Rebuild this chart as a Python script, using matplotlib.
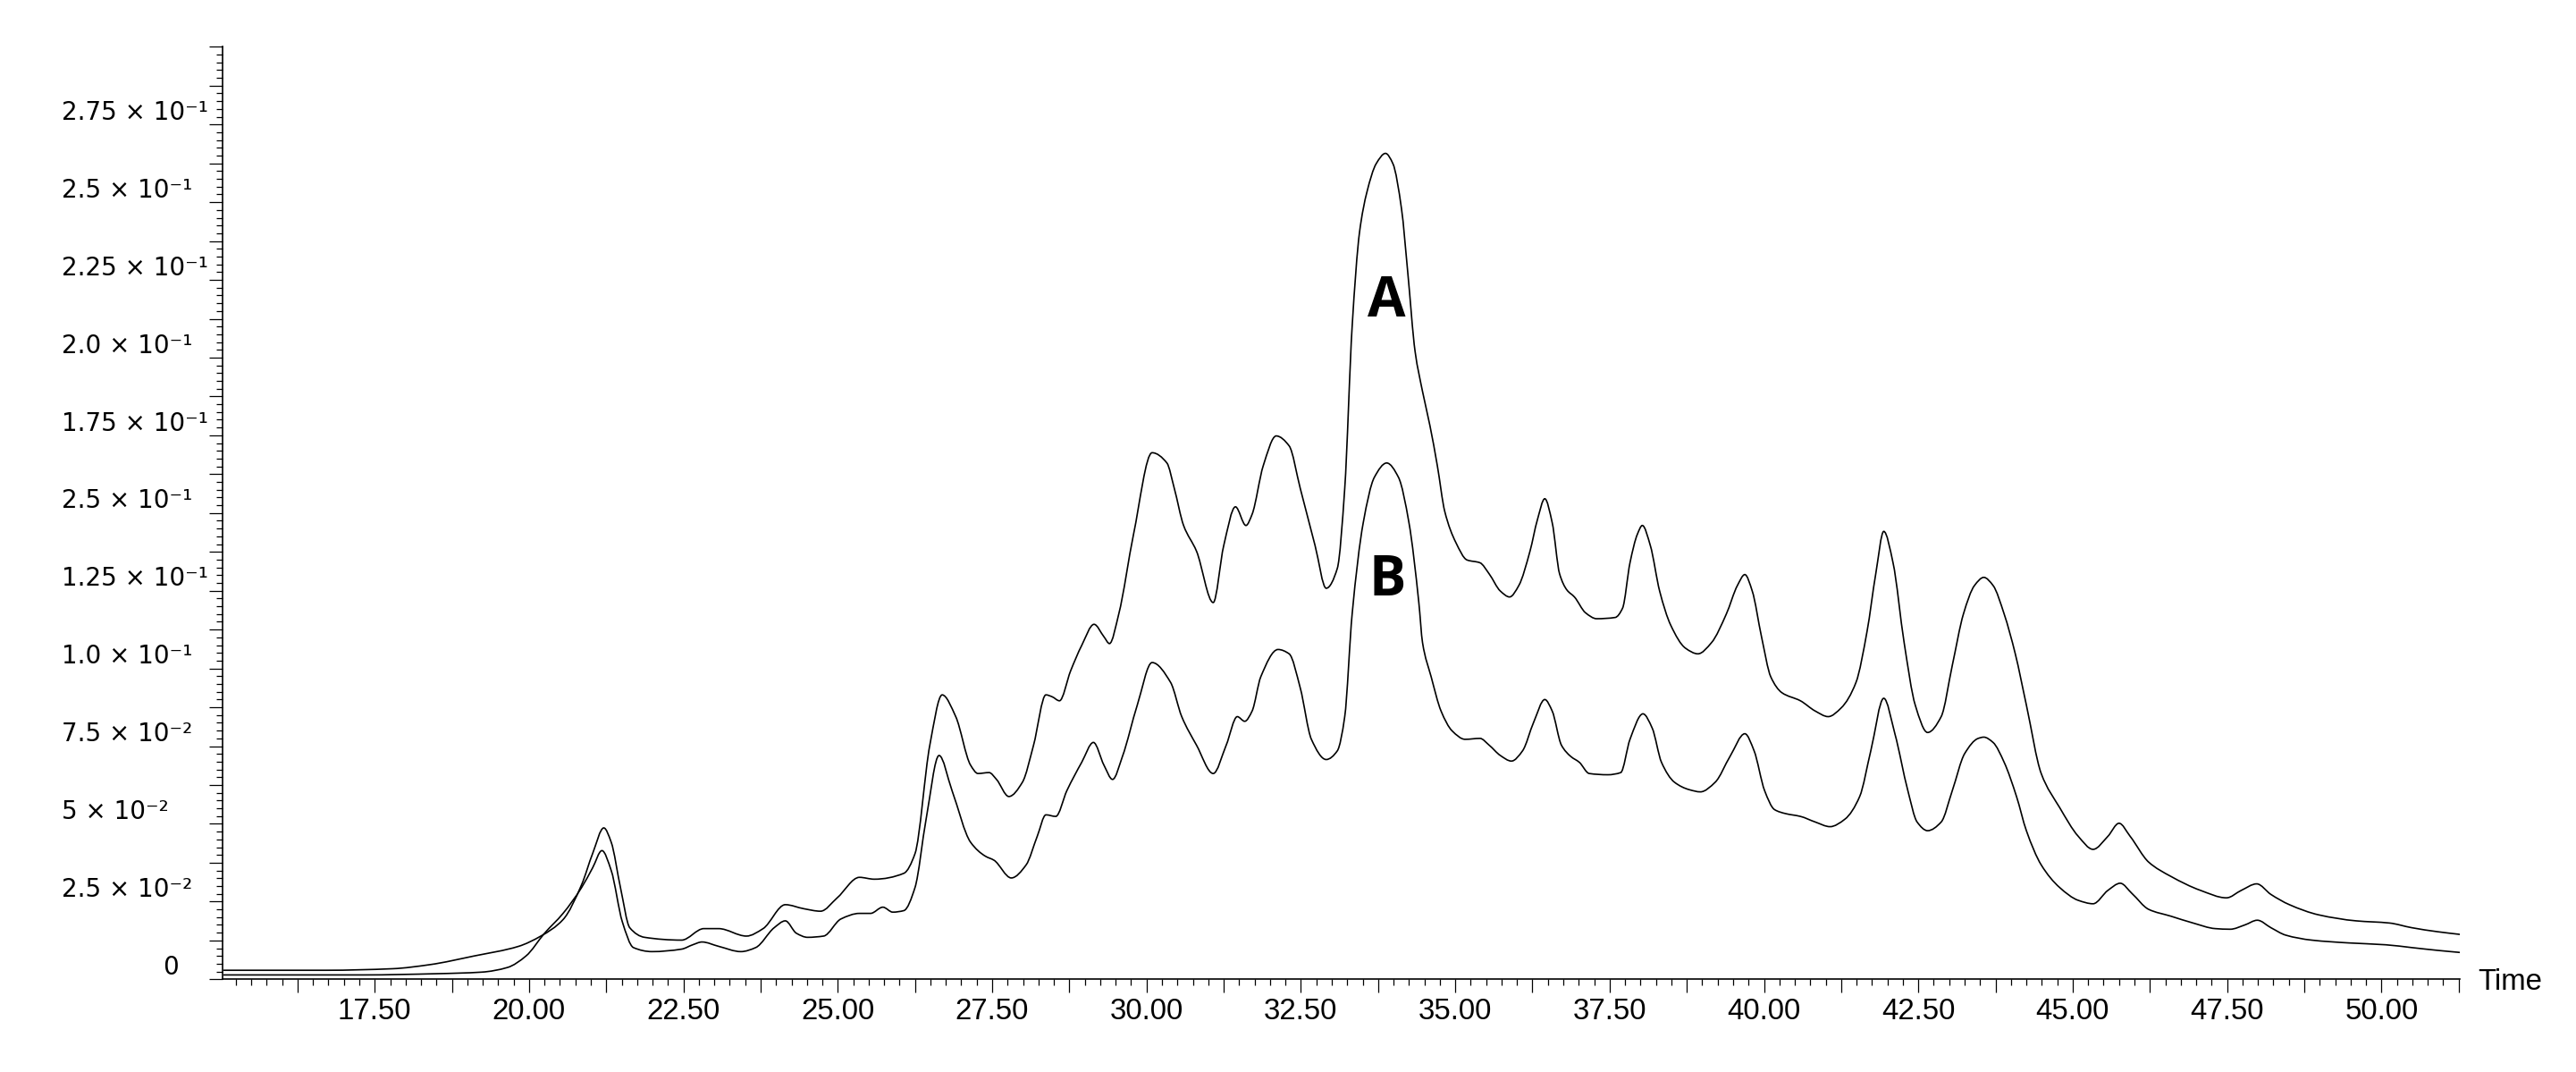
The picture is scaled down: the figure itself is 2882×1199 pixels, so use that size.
import numpy as np
import matplotlib
matplotlib.use("Agg")
import matplotlib.pyplot as plt
from matplotlib.ticker import MultipleLocator, FixedLocator, NullFormatter
from matplotlib.path import Path
from matplotlib.patches import PathPatch

# ---------------- data ----------------
time_A = [15.05, 16.71, 17.79, 18.39, 19.11, 19.83, 20.19, 20.55, 20.85, 21.03,
          21.21, 21.33, 21.48, 21.63, 21.87, 22.47, 22.83, 23.07, 23.52, 23.79,
          24.15, 24.45, 24.72, 24.99, 25.35, 25.59, 26.07, 26.25, 26.49, 26.69,
          26.91, 27.15, 27.27, 27.45, 27.57, 27.77, 27.99, 28.17, 28.37, 28.47,
          28.59, 28.77, 28.95, 29.15, 29.31, 29.40, 29.55, 29.79, 30.09, 30.33,
          30.45, 30.60, 30.81, 31.08, 31.25, 31.44, 31.61, 31.71, 31.89, 32.10,
          32.31, 32.49, 32.73, 32.91, 33.09, 33.21, 33.33, 33.45, 33.57, 33.72,
          33.87, 33.99, 34.13, 34.23, 34.35, 34.47, 34.59, 34.71, 34.83, 35.01,
          35.19, 35.40, 35.55, 35.73, 35.88, 36.03, 36.21, 36.33, 36.45, 36.57,
          36.69, 36.81, 36.93, 37.11, 37.29, 37.59, 37.71, 37.83, 37.95, 38.03,
          38.16, 38.31, 38.49, 38.73, 38.93, 39.15, 39.39, 39.57, 39.69, 39.81,
          39.96, 40.11, 40.29, 40.59, 40.83, 41.04, 41.25, 41.49, 41.67, 41.81,
          41.94, 42.09, 42.27, 42.45, 42.65, 42.87, 43.05, 43.23, 43.41, 43.56,
          43.71, 43.89, 44.07, 44.25, 44.49, 44.79, 45.09, 45.33, 45.57, 45.75,
          45.93, 46.23, 46.59, 47.07, 47.49, 47.73, 47.98, 48.21, 48.51, 48.99,
          49.59, 50.13, 50.49, 50.91, 51.29]
signal_A = [0.0029, 0.0029, 0.0034, 0.0047, 0.0075, 0.0106, 0.0139, 0.0192, 0.0304, 0.0405,
            0.0487, 0.0441, 0.0295, 0.0166, 0.0135, 0.0126, 0.0163, 0.0163, 0.0139, 0.0163,
            0.0240, 0.0227, 0.0219, 0.0262, 0.0328, 0.0322, 0.0341, 0.0404, 0.0753, 0.0915,
            0.0845, 0.0689, 0.0662, 0.0665, 0.0643, 0.0588, 0.0634, 0.0753, 0.0915, 0.0909,
            0.0896, 0.0992, 0.1074, 0.1142, 0.1102, 0.1080, 0.1175, 0.1432, 0.1694, 0.1661,
            0.1579, 0.1460, 0.1377, 0.1212, 0.1395, 0.1520, 0.1460, 0.1496, 0.1652, 0.1748,
            0.1716, 0.1579, 0.1395, 0.1258, 0.1322, 0.1579, 0.2100, 0.2404, 0.2533, 0.2624,
            0.2657, 0.2624, 0.2478, 0.2276, 0.2019, 0.1891, 0.1781, 0.1652, 0.1505, 0.1405,
            0.1349, 0.1340, 0.1304, 0.1249, 0.1230, 0.1267, 0.1377, 0.1478, 0.1546, 0.1469,
            0.1304, 0.1252, 0.1230, 0.1179, 0.1160, 0.1164, 0.1194, 0.1340, 0.1432, 0.1460,
            0.1395, 0.1249, 0.1139, 0.1065, 0.1047, 0.1083, 0.1175, 0.1267, 0.1302, 0.1249,
            0.1102, 0.0973, 0.0922, 0.0896, 0.0863, 0.0845, 0.0873, 0.0955, 0.1120, 0.1304,
            0.1441, 0.1340, 0.1083, 0.0882, 0.0794, 0.0845, 0.1010, 0.1175, 0.1267, 0.1293,
            0.1267, 0.1175, 0.1047, 0.0882, 0.0662, 0.0552, 0.0460, 0.0418, 0.0460, 0.0502,
            0.0460, 0.0377, 0.0331, 0.0286, 0.0262, 0.0286, 0.0307, 0.0273, 0.0240, 0.0207,
            0.0188, 0.0181, 0.0166, 0.0153, 0.0144]

time_B = [15.05, 17.31, 18.51, 19.23, 19.65, 19.95, 20.25, 20.55, 20.85, 21.03,
          21.18, 21.33, 21.51, 21.69, 21.99, 22.47, 22.65, 22.80, 23.07, 23.43,
          23.67, 23.97, 24.15, 24.33, 24.51, 24.77, 25.05, 25.35, 25.53, 25.73,
          25.89, 26.07, 26.25, 26.43, 26.64, 26.85, 27.15, 27.39, 27.53, 27.81,
          28.05, 28.23, 28.37, 28.53, 28.71, 28.95, 29.14, 29.31, 29.45, 29.61,
          29.85, 30.09, 30.39, 30.57, 30.81, 31.08, 31.29, 31.47, 31.59, 31.71,
          31.85, 32.13, 32.31, 32.49, 32.67, 32.91, 33.09, 33.21, 33.33, 33.51,
          33.69, 33.89, 34.08, 34.25, 34.41, 34.47, 34.61, 34.77, 34.95, 35.16,
          35.40, 35.55, 35.73, 35.91, 36.09, 36.27, 36.45, 36.57, 36.72, 36.87,
          37.01, 37.17, 37.47, 37.68, 37.83, 38.04, 38.19, 38.34, 38.55, 38.79,
          38.97, 39.21, 39.45, 39.69, 39.84, 40.01, 40.17, 40.35, 40.59, 40.83,
          41.07, 41.31, 41.55, 41.73, 41.94, 42.12, 42.33, 42.48, 42.65, 42.87,
          43.05, 43.25, 43.47, 43.56, 43.71, 43.89, 44.09, 44.25, 44.49, 44.79,
          45.09, 45.33, 45.57, 45.77, 45.96, 46.23, 46.59, 46.95, 47.31, 47.55,
          47.79, 47.99, 48.21, 48.45, 48.87, 49.47, 50.07, 50.49, 50.91, 51.29]
signal_B = [0.0014, 0.0014, 0.0018, 0.0023, 0.0038, 0.0075, 0.0148, 0.0212, 0.0295, 0.0359,
            0.0414, 0.0350, 0.0185, 0.0102, 0.0089, 0.0097, 0.0111, 0.0120, 0.0106, 0.0089,
            0.0102, 0.0166, 0.0188, 0.0148, 0.0135, 0.0139, 0.0194, 0.0212, 0.0212, 0.0232,
            0.0216, 0.0221, 0.0295, 0.0515, 0.0720, 0.0607, 0.0441, 0.0396, 0.0383, 0.0326,
            0.0368, 0.0460, 0.0529, 0.0524, 0.0607, 0.0698, 0.0762, 0.0689, 0.0643, 0.0717,
            0.0882, 0.1019, 0.0955, 0.0845, 0.0753, 0.0662, 0.0753, 0.0845, 0.0830, 0.0863,
            0.0973, 0.1061, 0.1047, 0.0937, 0.0772, 0.0707, 0.0735, 0.0845, 0.1175, 0.1469,
            0.1615, 0.1661, 0.1615, 0.1469, 0.1212, 0.1083, 0.0973, 0.0863, 0.0799, 0.0772,
            0.0775, 0.0753, 0.0720, 0.0702, 0.0735, 0.0827, 0.0900, 0.0863, 0.0753, 0.0717,
            0.0698, 0.0662, 0.0658, 0.0665, 0.0772, 0.0854, 0.0808, 0.0698, 0.0634, 0.0610,
            0.0603, 0.0634, 0.0717, 0.0790, 0.0735, 0.0607, 0.0546, 0.0533, 0.0524, 0.0506,
            0.0491, 0.0515, 0.0588, 0.0735, 0.0904, 0.0790, 0.0607, 0.0506, 0.0478, 0.0506,
            0.0607, 0.0726, 0.0775, 0.0779, 0.0762, 0.0698, 0.0588, 0.0478, 0.0368, 0.0295,
            0.0254, 0.0243, 0.0286, 0.0309, 0.0276, 0.0225, 0.0203, 0.0181, 0.0163, 0.0161,
            0.0175, 0.0190, 0.0166, 0.0142, 0.0126, 0.0117, 0.0111, 0.0102, 0.0093, 0.0086]

x_label_values = [17.5, 20.0, 22.5, 25.0, 27.5, 30.0, 32.5, 35.0, 37.5, 40.0, 42.5, 45.0, 47.5, 50.0]
x_label_texts = ["17.50", "20.00", "22.50", "25.00", "27.50", "30.00", "32.50",
                 "35.00", "37.50", "40.00", "42.50", "45.00", "47.50", "50.00"]

y_label_values = [0, 0.025, 0.05, 0.075, 0.1, 0.125, 0.15, 0.175, 0.2, 0.225, 0.25, 0.275]
y_label_texts = ["0", "2.5 × 10⁻²", "5 × 10⁻²", "7.5 × 10⁻²", "1.0 × 10⁻¹", "1.25 × 10⁻¹",
                 "2.5 × 10⁻¹", "1.75 × 10⁻¹", "2.0 × 10⁻¹", "2.25 × 10⁻¹", "2.5 × 10⁻¹",
                 "2.75 × 10⁻¹"]

peak_labels = ["A", "B"]
peak_label_pos = [(33.88, 0.2133), (33.90, 0.1234)]


def smooth_trace_path(x, y):
    """Cubic Bezier path through the read points (monotone Hermite tangents)."""
    x = np.asarray(x, float)
    y = np.asarray(y, float)
    h = np.diff(x)
    d = np.diff(y) / h
    m = np.zeros_like(y)
    m[0], m[-1] = d[0], d[-1]
    for k in range(1, len(y) - 1):
        if d[k - 1] * d[k] <= 0:
            m[k] = 0.0
        else:
            w1 = 2 * h[k] + h[k - 1]
            w2 = h[k] + 2 * h[k - 1]
            m[k] = (w1 + w2) / (w1 / d[k - 1] + w2 / d[k])
    verts = [(x[0], y[0])]
    codes = [Path.MOVETO]
    for k in range(len(x) - 1):
        verts += [(x[k] + h[k] / 3, y[k] + m[k] * h[k] / 3),
                  (x[k + 1] - h[k] / 3, y[k + 1] - m[k + 1] * h[k] / 3),
                  (x[k + 1], y[k + 1])]
        codes += [Path.CURVE4] * 3
    return Path(verts, codes)


# ---------------- figure ----------------
W, H, DPI = 2882, 1199, 100
fig = plt.figure(figsize=(W / DPI, H / DPI), dpi=DPI)
ax = fig.add_axes([249.3 / W, 103.7 / H, (2751.7 - 249.3) / W, (1146.7 - 103.7) / H])

for tx, sy in ((time_A, signal_A), (time_B, signal_B)):
    ax.add_patch(PathPatch(smooth_trace_path(tx, sy), fill=False,
                           edgecolor="black", lw=1.2, joinstyle="round"))

ax.set_xlim(15.04, 51.265)
ax.set_ylim(0, 0.300)

for s in ("top", "right"):
    ax.spines[s].set_visible(False)
for s in ("left", "bottom"):
    ax.spines[s].set_linewidth(1.2)
    ax.spines[s].set_color("black")

# x ticks
x_major = np.arange(16.25, 51.3, 1.25)
ax.xaxis.set_major_locator(FixedLocator(x_major))
lab_map = {round(v, 2): t for v, t in zip(x_label_values, x_label_texts)}
ax.set_xticklabels([lab_map.get(round(v, 2), "") for v in x_major],
                   family="Liberation Sans", fontsize=23.8)
ax.xaxis.set_minor_locator(MultipleLocator(0.25))
ax.tick_params(axis="x", which="major", direction="out", length=10.6, width=0.9, pad=4.0)
ax.tick_params(axis="x", which="minor", direction="out", length=4.8, width=0.9)

# y ticks
ax.yaxis.set_major_locator(MultipleLocator(0.0125))
ax.yaxis.set_minor_locator(MultipleLocator(0.0025))
ax.yaxis.set_major_formatter(NullFormatter())
ax.tick_params(axis="y", which="major", direction="out", length=10.8, width=0.9)
ax.tick_params(axis="y", which="minor", direction="out", length=5.4, width=0.9)

for val, txt in zip(y_label_values, y_label_texts):
    xoff = -67.6 if txt == "0" else -180.0
    ax.annotate(txt, xy=(0, val), xycoords=("axes fraction", "data"),
                xytext=(xoff, 5.3), textcoords="offset pixels",
                ha="left", va="baseline", fontsize=20, family="DejaVu Sans",
                annotation_clip=False)

ax.annotate("Time", xy=(1, 0), xycoords=("axes fraction", "data"),
            xytext=(21, -11.4), textcoords="offset pixels",
            ha="left", va="baseline", fontsize=23.8, family="Liberation Sans",
            annotation_clip=False)

for lab, (tx, ty) in zip(peak_labels, peak_label_pos):
    ax.text(tx, ty, lab, ha="center", va="baseline", fontsize=44.4,
            family="Open Sans", fontweight="bold")

fig.savefig("out.png", dpi=DPI)
